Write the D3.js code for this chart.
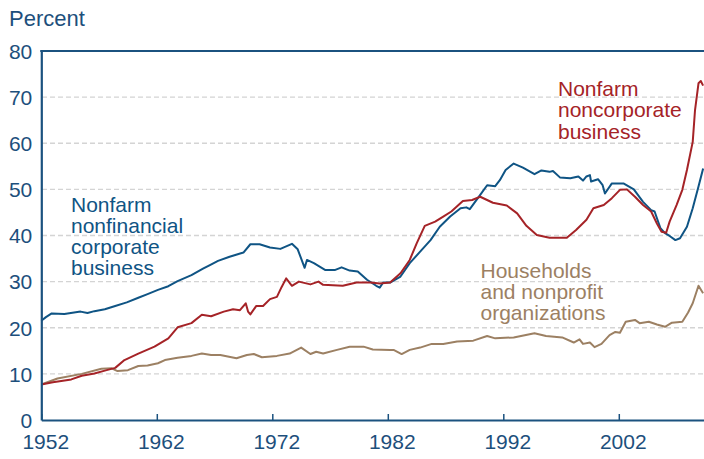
<!DOCTYPE html>
<html><head><meta charset="utf-8">
<script src="https://cdn.jsdelivr.net/npm/d3@7"></script>
<style>body{margin:0;background:#fff}svg{display:block;font-family:"Liberation Sans",Arial,sans-serif}</style>
</head><body><svg id="c" width="704" height="459"></svg>
<script>
const yTicks=[0,10,20,30,40,50,60,70,80];
const xTicks=[1952,1962,1972,1982,1992,2002];
const corpYears=[1952.0,1952.4,1952.9,1954,1955.4,1956,1956.6,1957.5,1958.4,1959.4,1960.4,1961.2,1962.1,1963,1963.8,1965,1966,1966.6,1967.3,1968.3,1969.5,1970.1,1970.9,1971.8,1972.7,1973.7,1974.2,1974.8,1975,1975.6,1976.6,1977.4,1978,1978.7,1979.4,1980.2,1981,1981.3,1981.6,1982.2,1983.1,1983.9,1984.8,1985.7,1986.5,1987.4,1988.3,1988.8,1989.1,1990,1990.6,1991.3,1991.7,1992.2,1992.9,1993.7,1994.7,1995.3,1996,1996.3,1996.9,1997.8,1998.5,1998.9,1999.2,1999.5,1999.6,2000.2,2000.6,2000.8,2001.4,2002.4,2003.3,2004.1,2004.8,2005.1,2005.6,2006,2006.4,2006.9,2007.3,2007.9,2008.4,2008.9,2009.3];
const corpValues=[21.5,22.3,23.1,23.0,23.5,23.2,23.6,24.0,24.7,25.5,26.5,27.3,28.2,29.0,30.1,31.4,32.8,33.6,34.5,35.4,36.3,38.1,38.1,37.4,37.1,38.2,37.0,33.0,34.7,34.0,32.5,32.5,33.1,32.4,32.2,30.4,29.1,28.7,29.8,29.8,31.1,34.0,36.5,39.0,41.9,44.1,45.9,46.1,45.7,48.8,50.9,50.7,52.0,54.2,55.6,54.7,53.3,54.1,53.8,54.0,52.6,52.4,52.8,51.9,52.8,53.1,51.7,52.2,50.9,49.1,51.3,51.3,50.0,47.3,45.5,45.2,41.6,40.5,39.9,39.0,39.4,41.9,45.9,50.6,54.5];
const noncorpYears=[1952,1953,1954.6,1955.5,1956.6,1957.5,1958.4,1959.2,1960.4,1961.8,1963,1963.8,1965,1965.9,1966.7,1967.8,1968.6,1969.2,1969.7,1969.9,1970.1,1970.6,1971.2,1971.8,1972.4,1972.8,1973.2,1973.7,1974.3,1975.3,1976,1976.4,1978.1,1979.3,1980.5,1981.3,1982.2,1983.1,1983.9,1984.5,1985.2,1986.1,1986.8,1987.5,1988.5,1989.3,1990,1991.1,1992.3,1993.2,1994,1994.9,1995.8,1996,1997.5,1998.3,1999.2,1999.8,2000.7,2001.4,2002.1,2002.7,2003.4,2004.1,2004.8,2005.3,2005.7,2006.1,2006.4,2007,2007.5,2007.9,2008.4,2008.6,2008.9,2009.1,2009.3];
const noncorpValues=[7.7,8.2,8.8,9.6,10.1,10.7,11.3,13.0,14.4,15.9,17.7,20.1,21.0,22.8,22.5,23.5,24.0,23.8,25.3,23.5,22.9,24.7,24.7,26.2,26.7,28.8,30.7,29.1,30.0,29.4,30.0,29.3,29.1,29.8,29.8,29.6,29.8,31.8,34.7,38.3,42.1,43.0,44.1,45.2,47.5,47.7,48.4,47.1,46.5,44.8,42.1,40.1,39.6,39.5,39.5,41.2,43.4,45.9,46.6,48.1,49.9,50.0,48.4,46.6,45.2,42.6,40.8,40.6,43.0,46.6,49.9,54.2,60.3,67.2,73.0,73.5,72.5];
const hhYears=[1952,1953.4,1955.5,1957.2,1958.1,1958.6,1959.5,1960.4,1961.2,1962.1,1962.7,1963.8,1965,1965.9,1966.7,1967.5,1968.9,1969.8,1970.4,1971.1,1972.4,1973.5,1974.5,1975.3,1975.8,1976.4,1977.6,1978.7,1979.9,1980.7,1982.2,1982.5,1983.2,1983.9,1984.8,1985.8,1986.8,1988,1989.4,1990.6,1991.3,1992.9,1994.7,1995.7,1997.1,1998.1,1998.6,1998.9,1999.5,1999.9,2000.5,2001.2,2001.7,2002.1,2002.6,2003.4,2003.8,2004.6,2005.3,2006,2006.6,2007.5,2008,2008.4,2008.9,2009.3];
const hhValues=[7.7,9.0,10.0,11.1,11.2,10.6,10.8,11.7,11.8,12.3,13.0,13.5,13.9,14.4,14.1,14.1,13.4,14.1,14.3,13.6,13.9,14.4,15.7,14.3,14.8,14.4,15.2,15.9,15.9,15.3,15.2,15.2,14.3,15.2,15.7,16.5,16.5,17.0,17.2,18.2,17.7,17.9,18.8,18.2,17.9,16.8,17.5,16.5,16.8,15.8,16.5,18.4,19.1,18.9,21.3,21.7,21.0,21.3,20.7,20.2,21.1,21.3,23.3,25.3,29.1,27.5];
const corpLabel=["Nonfarm","nonfinancial","corporate","business"];
const noncorpLabel=["Nonfarm","noncorporate","business"];
const hhLabel=["Households","and nonprofit","organizations"];

const textColor="#1d4f7c", axisColor="#1b527f";
const cBlue="#0f5484", cRed="#a52327", cBrown="#9c8063";
const svg=d3.select("#c");
const x=d3.scaleLinear().domain([1952,2012]).range([41.3,41.3+60*11.55]);
const y=d3.scaleLinear().domain([0,80]).range([420,51]);

svg.append("g").selectAll("line").data(yTicks.filter(d=>d>0&&d<80)).join("line")
  .attr("x1",42).attr("x2",704).attr("y1",d=>y(d)).attr("y2",d=>y(d))
  .attr("stroke","#d4d4d4").attr("stroke-width",1.3).attr("stroke-dasharray","5,3");

const line=d3.line().x(d=>x(d[0])).y(d=>y(d[1]));
function series(yrs,vals,col){
  svg.append("path").datum(yrs.map((t,i)=>[t,vals[i]])).attr("d",line)
   .attr("fill","none").attr("stroke",col).attr("stroke-width",2).attr("stroke-linejoin","round");
}
series(hhYears,hhValues,cBrown);
series(corpYears,corpValues,cBlue);
series(noncorpYears,noncorpValues,cRed);

const ya=svg.append("g").attr("transform","translate(41.3,0)")
  .call(d3.axisLeft(y).tickValues(yTicks).tickSize(0).tickPadding(9));
ya.select(".domain").attr("stroke",axisColor).attr("stroke-width",2.2);
ya.selectAll("text").attr("fill",textColor).style("font-size","21px").attr("dy","0.35em");
const xa=svg.append("g").attr("transform","translate(0,420)")
  .call(d3.axisBottom(x).tickValues(xTicks).tickSize(-6).tickSizeOuter(0).tickFormat(d3.format("d")));
xa.select(".domain").attr("stroke",axisColor).attr("stroke-width",2.2);
xa.selectAll(".tick line").attr("stroke",axisColor).attr("stroke-width",1.5);
xa.selectAll("text").attr("fill",textColor).style("font-size","21px").attr("y",14).attr("dx",4);
svg.append("line").attr("x1",40.2).attr("x2",704).attr("y1",y(80)).attr("y2",y(80))
  .attr("stroke",axisColor).attr("stroke-width",2);

svg.append("text").attr("x",9).attr("y",26).attr("fill",textColor).style("font-size","22px").text("Percent");

function label(lines,x0,y0,col){
  const g=svg.append("g").attr("fill",col).style("font-size","21px");
  lines.forEach((s,i)=>g.append("text").attr("x",x0).attr("y",y0+i*21.3).text(s));
}
label(corpLabel,71,211.5,cBlue);
label(noncorpLabel,558,96,cRed);
label(hhLabel,480.5,277.5,cBrown);
</script></body></html>
